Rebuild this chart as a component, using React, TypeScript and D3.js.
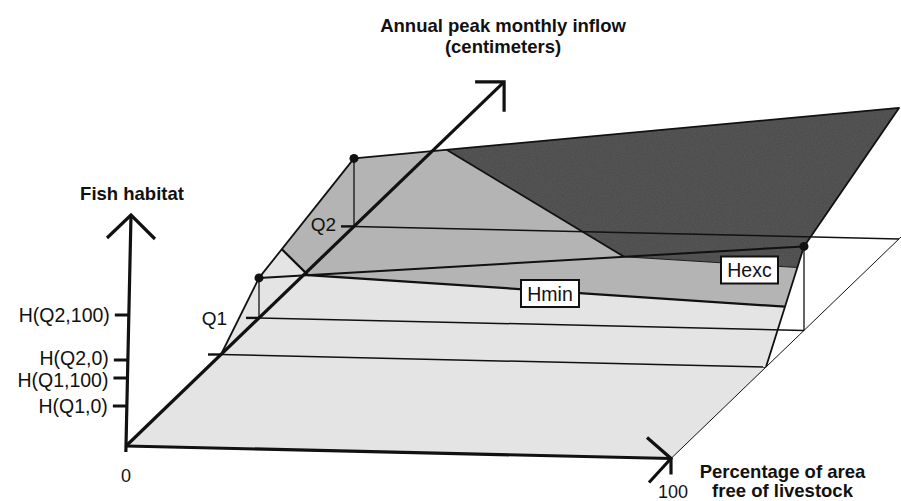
import React from 'react';
import * as d3 from 'd3';

// ---------- data ----------
const percentEnds = [0, 100];                 // % of area free of livestock
const inflowNames = ['Q0', 'Q1', 'Q2'];
const inflowLevels = [10, 14, 24];            // peak monthly inflow levels
const inflowLabelShown = [false, true, true];
const inflowAxisMax = 39.8;
const habitatAtQ1 = [40, 84];                 // H(Q1, p) at p = 0, 100 (drawn surface)
const habitatAtQ2 = [68, 131];                // H(Q2, p) at p = 0, 100 (drawn surface)
const habitatTickLabels = ['H(Q1,0)', 'H(Q1,100)', 'H(Q2,0)', 'H(Q2,100)'];
const habitatTickValues = [40, 68, 86, 131];
const habitatAxisMax = 231;
const hminContour = [[100, 12], [9, 14], [0, 16.4]];       // (p, Q)
const hexcContour = [[17, 24], [67, 14], [100, 13.3]];     // (p, Q)

// ---------- layout / projection ----------
const W = 901, H = 501;
const O = [126, 446];
const pX = d3.scaleLinear().domain([0, 100]).range([0, 545]);
const pY = d3.scaleLinear().domain([0, 100]).range([0, 12.5]);
const qX = d3.scaleLinear().domain([0, 40]).range([0, 380]);
const qY = d3.scaleLinear().domain([0, 40]).range([0, -366]);
const hY = d3.scaleLinear().domain([0, 100]).range([0, -100]);
const axisHY = d3.scaleLinear().domain([0, habitatAxisMax]).range([446, 215]);
const axisHX = d3.scaleLinear().domain([0, habitatAxisMax]).range([126, 131]);

// label placement tweaks (layout only)
const inflowLabelDx = [0, -32, -18];
const inflowLabelDy = [0, 7, 5];
const habitatLabelNudge = [0, 2, -2, 0];

const proj = (p: number, q: number, h: number): [number, number] => [
  O[0] + pX(p) + qX(q),
  O[1] + pY(p) + qY(q) + hY(h),
];

const [Q0, Q1, Q2] = inflowLevels;
const lerp = (a: number, b: number, t: number) => a + (b - a) * t;
const h1 = (p: number) => lerp(habitatAtQ1[0], habitatAtQ1[1], p / 100);
const h2 = (p: number) => lerp(habitatAtQ2[0], habitatAtQ2[1], p / 100);
const surfaceH = (p: number, q: number) => {
  if (q <= Q0) return 0;
  if (q <= Q1) return h1(p) * (q - Q0) / (Q1 - Q0);
  return h1(p) + (h2(p) - h1(p)) * Math.min(1, (q - Q1) / (Q2 - Q1));
};
const S = (p: number, q: number) => proj(p, q, surfaceH(p, q));

const line = d3.line<[number, number]>();
const closed = (pts: [number, number][]) => line(pts) + 'Z';

const FONT = '"Liberation Sans", Arial, Helvetica, sans-serif';
const INK = '#111';

export default function App() {
  const [p0, p1] = percentEnds;
  const hminPts = hminContour.map(([p, q]) => S(p, q));
  const hexcPts = hexcContour.map(([p, q]) => S(p, q));

  const lightPoly: [number, number][] = [
    proj(p0, 0, 0), proj(p1, 0, 0), proj(p1, Q0, 0),
    ...hminPts,
    S(p0, Q1), S(p0, Q0),
  ];
  const mediumPoly: [number, number][] = [
    hminPts[2], S(p0, Q2), hexcPts[0], hexcPts[1], hexcPts[2],
    hminPts[0], hminPts[1],
  ];
  const darkPoly: [number, number][] = [
    hexcPts[0], S(p1, Q2), S(p1, Q1), hexcPts[2], hexcPts[1],
  ];

  const A = S(p0, Q1), B = S(p0, Q2), C = S(p1, Q1), D = S(p1, Q2);

  // axes
  const xTip = proj(p1, 0, 0);
  const dTip = proj(p0, inflowAxisMax, 0);
  const vTip: [number, number] = [axisHX(habitatAxisMax), axisHY(habitatAxisMax)];
  const vBot: [number, number] = [axisHX(-6), axisHY(-6)];

  return (
    <svg width={W} height={H} viewBox={`0 0 ${W} ${H}`}
      style={{ position: 'absolute', left: 0, top: 0, background: '#fff' }}>
      <defs>
        <filter id="grain" x="0" y="0" width="100%" height="100%">
          <feTurbulence type="fractalNoise" baseFrequency="0.9" numOctaves={2} seed={3} result="n" />
          <feColorMatrix in="n" type="matrix"
            values="0 0 0 0 0  0 0 0 0 0  0 0 0 0 0  0 0 0 0.35 0" result="dots" />
          <feComposite in="dots" in2="SourceGraphic" operator="in" result="clip" />
          <feMerge>
            <feMergeNode in="SourceGraphic" />
            <feMergeNode in="clip" />
          </feMerge>
        </filter>
      </defs>

      {/* surface regions */}
      <path d={closed(lightPoly)} fill="#e4e4e4" />
      <path d={closed(mediumPoly)} fill="#b4b4b4" />
      <path d={closed(darkPoly)} fill="#5a5a5a" filter="url(#grain)" />

      {/* floor lines at inflow levels */}
      {inflowLevels.map((q, i) => {
        const a = proj(p0, q, 0), b = proj(p1, q, 0);
        return (
          <g key={inflowNames[i]}>
            <line x1={a[0]} y1={a[1]} x2={b[0]} y2={b[1]} stroke={INK} strokeWidth={1.5} />
            <line x1={a[0] - 13} y1={a[1]} x2={a[0]} y2={a[1]} stroke={INK} strokeWidth={2.4} />
            {inflowLabelShown[i] && (
              <text x={a[0] + inflowLabelDx[i]} y={a[1] + inflowLabelDy[i]} textAnchor="end"
                fontFamily={FONT} fontSize={19} fill={INK}>{inflowNames[i]}</text>
            )}
          </g>
        );
      })}
      {/* floor right edge */}
      <path d={line([proj(p1, 0, 0), proj(p1, 30, 0)])!} stroke={INK} strokeWidth={1} fill="none" />

      {/* surface edges */}
      <path d={line([S(p0, Q0), A, B, D, C, S(p1, Q0)])!} stroke={INK} strokeWidth={1.8}
        fill="none" strokeLinejoin="round" />
      <path d={line([A, C])!} stroke={INK} strokeWidth={2} fill="none" />
      {/* contours */}
      <path d={line([hminPts[2], hminPts[1], hminPts[0]])!} stroke={INK} strokeWidth={2.2} fill="none" />
      <path d={line([hexcPts[0], hexcPts[1]])!} stroke={INK} strokeWidth={1.8} fill="none" />
      <path d={line([hexcPts[1], hexcPts[2]])!} stroke={INK} strokeWidth={0.9} fill="none" />

      {/* drop lines */}
      {[[p0, Q1], [p0, Q2], [p1, Q1]].map(([p, q], i) => {
        const top = S(p, q), bot = proj(p, q, 0);
        return <line key={i} x1={top[0]} y1={top[1]} x2={bot[0]} y2={bot[1]} stroke={INK} strokeWidth={1.3} />;
      })}

      {/* axes */}
      <g stroke={INK} strokeWidth={3.2} fill="none" strokeLinecap="butt">
        <line x1={O[0]} y1={O[1]} x2={xTip[0]} y2={xTip[1]} />
        <polyline points={`${xTip[0] - 24},${xTip[1] - 21} ${xTip[0]},${xTip[1]} ${xTip[0] - 22},${xTip[1] + 24}`} />
        <line x1={xTip[0]} y1={xTip[1]} x2={xTip[0]} y2={xTip[1] + 16} />
        <line x1={vBot[0]} y1={vBot[1]} x2={vTip[0]} y2={vTip[1]} />
        <polyline points={`${vTip[0] - 24},${vTip[1] + 23} ${vTip[0]},${vTip[1]} ${vTip[0] + 24},${vTip[1] + 24}`} />
        <line x1={O[0]} y1={O[1]} x2={dTip[0]} y2={dTip[1]} />
        <polyline points={`${dTip[0] - 29},${dTip[1]} ${dTip[0]},${dTip[1]} ${dTip[0]},${dTip[1] + 30}`} />
      </g>

      {/* habitat ticks */}
      {habitatTickValues.map((v, i) => {
        const x = axisHX(v), y = axisHY(v);
        return (
          <g key={habitatTickLabels[i]}>
            <line x1={x - 14} y1={y} x2={x} y2={y} stroke={INK} strokeWidth={3} />
            <text x={x - 19} y={y + 7 + habitatLabelNudge[i]} textAnchor="end" fontFamily={FONT}
              fontSize={19.5} fill={INK}>
              {habitatTickLabels[i]}
            </text>
          </g>
        );
      })}

      {/* dots */}
      {[A, B, C].map((pt, i) => <circle key={i} cx={pt[0]} cy={pt[1]} r={4.5} fill={INK} />)}

      {/* contour labels */}
      <rect x={521} y={280} width={58} height={27} fill="#fff" stroke={INK} strokeWidth={2} />
      <text x={550} y={300.5} textAnchor="middle" fontFamily={FONT} fontSize={19.5} fill={INK}>Hmin</text>
      <rect x={721} y={256.5} width={57} height={27} fill="#fff" stroke={INK} strokeWidth={2} />
      <text x={749.5} y={277} textAnchor="middle" fontFamily={FONT} fontSize={19.5} fill={INK}>Hexc</text>

      {/* axis values */}
      <text x={O[0]} y={482} textAnchor="middle" fontFamily={FONT} fontSize={18} fill={INK}>{p0}</text>
      <text x={xTip[0] + 2} y={498} textAnchor="middle" fontFamily={FONT} fontSize={18} fill={INK}>{p1}</text>

      {/* titles */}
      <g fontFamily={FONT} fontWeight="bold" fontSize={18.5} fill={INK} textAnchor="middle">
        <text x={132} y={200}>Fish habitat</text>
        <text x={503} y={32}>Annual peak monthly inflow</text>
        <text x={503} y={53}>(centimeters)</text>
        <text x={782.5} y={478}>Percentage of area</text>
        <text x={782.5} y={497}>free of livestock</text>
      </g>
    </svg>
  );
}
